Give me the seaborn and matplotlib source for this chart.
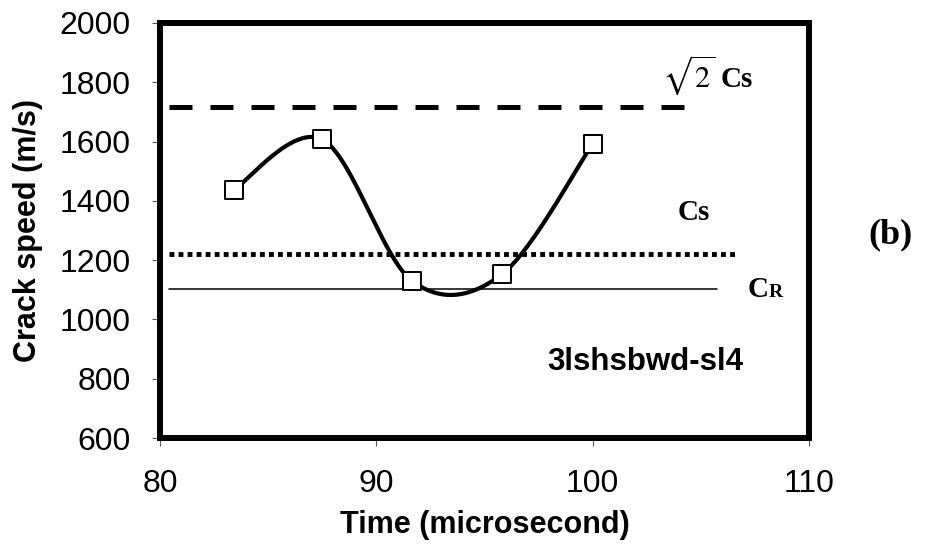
import numpy as np
import pandas as pd
import matplotlib
matplotlib.use("Agg")
import matplotlib.pyplot as plt
import seaborn as sns

# ---- data ----
time_us = [83.4, 87.5, 91.65, 95.8, 100.0]
crack_speed = [1437, 1607, 1130, 1152, 1593]

sqrt2_cs_value = 1716
cs_value = 1221
cr_value = 1101
ref_start = 80.4
sqrt2_cs_end = 104.6
cs_end = 106.7
cr_end = 105.75

x_ticks = [80, 90, 100, 110]
y_ticks = [600, 800, 1000, 1200, 1400, 1600, 1800, 2000]

sample_name = "3lshsbwd-sl4"
x_label = "Time (microsecond)"
y_label = "Crack speed (m/s)"


def excel_smooth(x, y, n=50):
    P = np.column_stack([x, y]).astype(float)
    ext = np.vstack([P[0], P, P[-1]])
    out = []
    t = np.linspace(0, 1, n)[:, None]
    for i in range(len(P) - 1):
        p0, p1, p2, p3 = ext[i], ext[i + 1], ext[i + 2], ext[i + 3]
        c1 = p1 + (p2 - p0) / 6.0
        c2 = p2 - (p3 - p1) / 6.0
        seg = (1 - t) ** 3 * p1 + 3 * (1 - t) ** 2 * t * c1 + 3 * (1 - t) * t ** 2 * c2 + t ** 3 * p2
        out.append(seg if i == 0 else seg[1:])
    return np.vstack(out)


sns.set_style("ticks")
plt.rcParams["font.family"] = ["Liberation Sans", "DejaVu Sans"]
plt.rcParams["mathtext.fontset"] = "stix"
plt.rcParams["text.color"] = "black"
plt.rcParams["axes.labelcolor"] = "black"

fig = plt.figure(figsize=(9.29, 5.48), dpi=100)
ax = fig.add_axes([160 / 929, 1 - 438 / 548, (809 - 160) / 929, (438 - 23) / 548])

df = pd.DataFrame({"time": time_us, "speed": crack_speed})
smooth = excel_smooth(df["time"], df["speed"])
sm = pd.DataFrame({"time": smooth[:, 0], "speed": smooth[:, 1]})

# reference lines
sns.lineplot(x=[ref_start, sqrt2_cs_end], y=[sqrt2_cs_value] * 2, ax=ax, color="black",
             linewidth=3.6, linestyle=(0, (4.6, 3.6)), estimator=None)
sns.lineplot(x=[ref_start, cs_end], y=[cs_value] * 2, ax=ax, color="black",
             linewidth=3.5, linestyle=(0, (1.0, 0.86)), estimator=None)
sns.lineplot(x=[ref_start, cr_end], y=[cr_value] * 2, ax=ax, color="black",
             linewidth=1.1, estimator=None)

# smoothed curve + markers
sns.lineplot(data=sm, x="time", y="speed", sort=False, estimator=None, ax=ax,
             color="black", linewidth=3.0, zorder=3)
sns.scatterplot(data=df, x="time", y="speed", ax=ax, marker="s", s=150,
                facecolor="white", edgecolor="black", linewidth=1.4, zorder=4)

ax.set_xlim(80, 110)
ax.set_ylim(600, 2000)
ax.set_xticks(x_ticks)
ax.set_yticks(y_ticks)
ax.set_xticklabels([str(v) for v in x_ticks])
ax.set_yticklabels([str(v) for v in y_ticks])

for sp in ax.spines.values():
    sp.set_visible(True)
    sp.set_linewidth(4.3)
    sp.set_color("black")

ax.tick_params(axis="both", direction="out", length=6, width=0.8, color="#555555",
               labelsize=23, labelcolor="black")
ax.tick_params(axis="x", pad=16)
ax.tick_params(axis="y", pad=15)

ax.set_xlabel(x_label, fontsize=22, fontweight="bold", labelpad=8, color="black")
ax.set_ylabel(y_label, fontsize=22, fontweight="bold", labelpad=12, color="black")

serif = ["Liberation Serif", "DejaVu Serif"]
ax.text(105.66, 1784, r"$\sqrt{2}$", fontsize=22, ha="right", va="baseline", color="black")
ax.text(105.9, 1784, "Cs", fontsize=21, fontweight="bold", family=serif,
        ha="left", va="baseline", color="black")
ax.text(103.95, 1335, "Cs", fontsize=21, fontweight="bold", family=serif,
        ha="left", va="baseline", color="black")
ax.text(107.14, 1076, "C", fontsize=21, fontweight="bold", family=serif,
        ha="left", va="baseline", color="black")
ax.text(108.15, 1076, "R", fontsize=14, fontweight="bold", family=serif,
        ha="left", va="baseline", color="black")
ax.text(97.9, 829, sample_name, fontsize=22.5, fontweight="bold", ha="left", va="baseline",
        color="black")

fig.text(868 / 929, 1 - 243 / 548, "(b)", fontsize=26, fontweight="bold", family=serif,
         ha="left", va="baseline", color="black")

fig.savefig("out.png", dpi=100)
